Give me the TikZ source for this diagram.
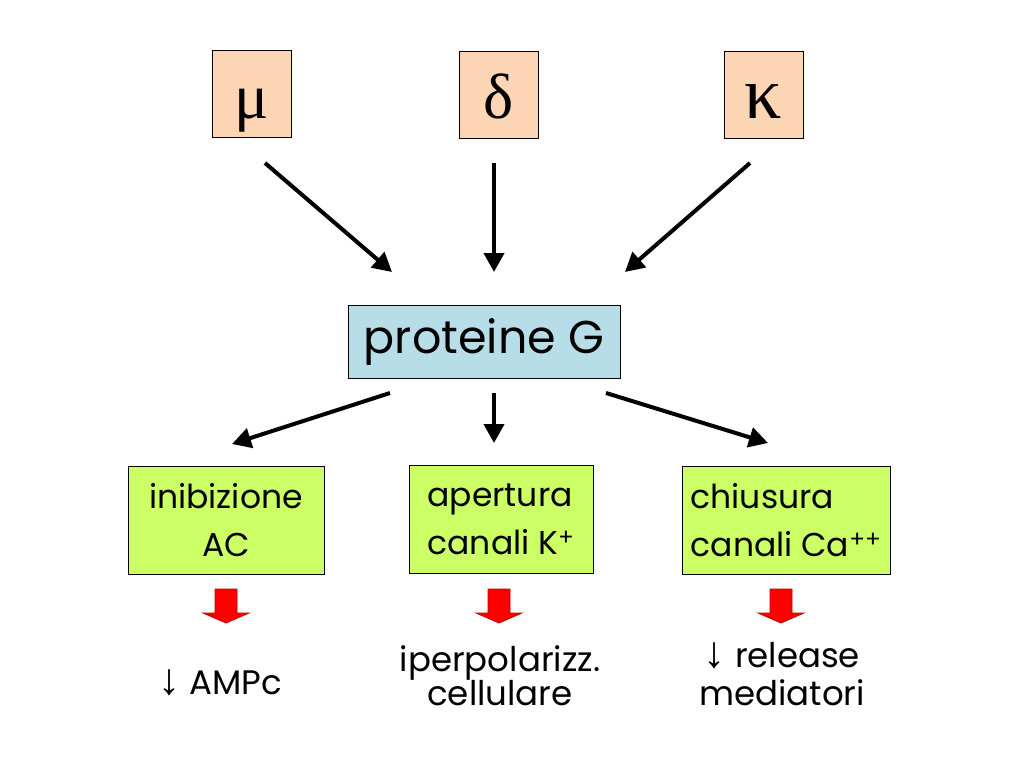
\documentclass[tikz,border=0pt]{standalone}
\usepackage{fontspec}
\setmainfont{Poppins}
\newfontfamily\greekf{Liberation Serif}
\newfontfamily\arrf{Liberation Serif}
\usetikzlibrary{arrows.meta}
\definecolor{peach}{HTML}{FCD5B5}
\definecolor{pblue}{HTML}{B7DEE8}
\definecolor{lgreen}{HTML}{CCFF66}
\definecolor{dred}{HTML}{C00000}
\tikzset{
  greekbox/.style={draw=black, line width=1pt, fill=peach, minimum width=79pt, minimum height=86pt, inner sep=0pt, text height=0pt, text depth=0pt, font=\greekf\fontsize{64}{64}\selectfont},
  protbox/.style={draw=black, line width=1pt, fill=pblue, minimum width=272pt, minimum height=73pt, inner sep=0pt, font=\fontsize{46}{46}\selectfont},
  effbox/.style={draw=black, line width=1pt, fill=lgreen, minimum height=108pt, inner sep=0pt, font=\fontsize{33}{48}\selectfont},
  conn/.style={line width=4pt, -{Triangle[length=19pt,width=20pt]}},
  restext/.style={inner sep=0pt, align=center, font=\fontsize{34}{34}\selectfont},
  redarrow/.style={fill=red, draw=dred, line width=0.8pt, line join=miter}
}
\newcommand{\redarr}[1]{%
  \path[redarrow] (#1) ++(-11,0) -- ++(22,0) -- ++(0,24) -- ++(12,0) -- ++(-23,10) -- ++(-23,-10) -- ++(12,0) -- cycle;}
\newcommand{\dn}{{\arrf\fontsize{44}{44}\selectfont ↓}}
\begin{document}
\begin{tikzpicture}[x=1pt,y=-1pt]
\useasboundingbox (0,0) rectangle (1024,768);
% receptor boxes
\node[greekbox] (mu) at (252,94) {\raisebox{-24pt}{μ}};
\node[greekbox] (delta) at (498.5,95) {\raisebox{-23pt}{δ}};
\node[greekbox] (kappa) at (763.5,95) {\raisebox{-23pt}{\fontsize{74}{74}\selectfont κ}};
% proteine G
\node[protbox] (g) at (484,341.5) {proteine G};
% effector boxes
\node[effbox, minimum width=196pt, align=center] (ac) at (226,520) {inibizione\\AC};
\node[effbox, minimum width=184pt, align=left] (k) at (501,519) {apertura\\canali K\textsuperscript{+}};
\node[effbox, minimum width=208pt, align=left] (ca) at (786,520) {chiusura\\canali Ca\textsuperscript{++}};
% connector points
\coordinate (mu1) at (265,163); \coordinate (mu2) at (392,272);
\coordinate (de1) at (494,163); \coordinate (de2) at (494,272);
\coordinate (ka1) at (750,163); \coordinate (ka2) at (625,272);
\coordinate (g1) at (390,393); \coordinate (ac2) at (232,444);
\coordinate (g2) at (494,393); \coordinate (k2) at (494,443);
\coordinate (g3) at (606,393); \coordinate (ca2) at (768,443);
\draw[conn] (mu1) -- (mu2);
\draw[conn] (de1) -- (de2);
\draw[conn] (ka1) -- (ka2);
\draw[conn] (g1) -- (ac2);
\draw[conn] (g2) -- (k2);
\draw[conn] (g3) -- (ca2);
% red block arrows
\coordinate (r1) at (226,589);
\coordinate (r2) at (499,589);
\coordinate (r3) at (781,589);
\redarr{r1}
\redarr{r2}
\redarr{r3}
% results
\node[restext] (amp) at (220,683) {\dn\ AMPc};
\node[restext, font=\fontsize{34}{34}\selectfont] (iper) at (500,676) {iperpolarizz.\\cellulare};
\node[restext, font=\fontsize{34}{38}\selectfont] (rel) at (782,674) {\dn\ release\\mediatori};
\end{tikzpicture}
\end{document}
